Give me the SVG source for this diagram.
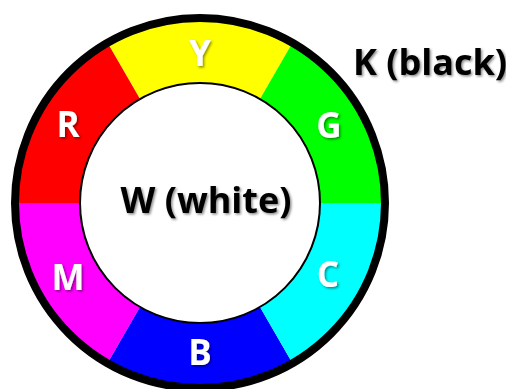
<svg xmlns="http://www.w3.org/2000/svg" width="506" height="389" viewBox="0 0 506 389">
<defs>
<filter id="sh" x="-20%" y="-20%" width="150%" height="150%">
<feDropShadow dx="1.5" dy="1.5" stdDeviation="1.2" flood-color="#000" flood-opacity="0.45"/>
</filter>
<style>
.seg{stroke:none}
.lbl{font-family:"Open Sans","Liberation Sans",sans-serif;font-weight:bold;font-size:35px;fill:#fff;text-anchor:middle;filter:url(#sh)}
.big{font-family:"Open Sans","Liberation Sans",sans-serif;font-weight:bold;font-size:36px;fill:#000;filter:url(#sh)}
</style>
</defs>
<rect width="506" height="389" fill="#fff"/>
<g id="Y"><path class="seg" fill="#FFFF00" d="M292.5 42.8 A185 185 0 0 0 107.5 42.8 L140 99.08 A120 120 0 0 1 260 99.08 Z"/><text class="lbl" x="200" y="66">Y</text></g>
<g id="R"><path class="seg" fill="#FF0000" d="M107.5 42.8 A185 185 0 0 0 15 203 L80 203 A120 120 0 0 1 140 99.08 Z"/><text class="lbl" x="68" y="137">R</text></g>
<g id="M"><path class="seg" fill="#FF00FF" d="M15 203 A185 185 0 0 0 107.5 363.2 L140 306.92 A120 120 0 0 1 80 203 Z"/><text class="lbl" x="68" y="290">M</text></g>
<g id="B"><path class="seg" fill="#0000FF" d="M107.5 363.2 A185 185 0 0 0 292.5 363.2 L260 306.92 A120 120 0 0 1 140 306.92 Z"/><text class="lbl" x="200" y="365">B</text></g>
<g id="C"><path class="seg" fill="#00FFFF" d="M292.5 363.2 A185 185 0 0 0 385 203 L320 203 A120 120 0 0 1 260 306.92 Z"/><text class="lbl" x="328" y="287">C</text></g>
<g id="G"><path class="seg" fill="#00FF00" d="M385 203 A185 185 0 0 0 292.5 42.8 L260 99.08 A120 120 0 0 1 320 203 Z"/><text class="lbl" x="329" y="138">G</text></g>
<g id="K"><circle cx="200" cy="203" r="185" fill="none" stroke="#000" stroke-width="8"/><text class="big" x="353" y="75">K (black)</text></g>
<g id="W"><circle cx="200" cy="203" r="120" fill="#fff" stroke="#000" stroke-width="2"/><text class="big" x="206" y="213" text-anchor="middle">W (white)</text></g>
<g id="connectors"></g>
</svg>
